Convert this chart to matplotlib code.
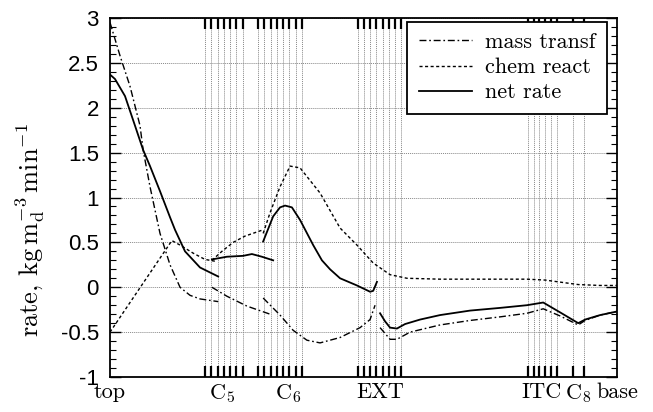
import numpy as np
import matplotlib
matplotlib.use("Agg")
import matplotlib.pyplot as plt
from matplotlib.lines import Line2D

plt.rcParams['mathtext.fontset'] = 'cm'
plt.rcParams['axes.unicode_minus'] = False

# x in stage units from the top of the column (0) to the base
# --- net rate (solid), one piece per section ---
net_x = [
    [0, 0.8, 2.4, 4.0, 5.3, 6.4, 8.0, 9.6, 10.4, 12.0, 14.4, 17.3],
    [16.3, 18.7, 21.3, 22.7, 24.3, 26.1],
    [24.5, 26.1, 27.2, 28.0, 29.1, 30.4, 32.5, 33.9, 35.2, 36.8, 39.5, 41.6, 42.1, 42.7],
    [43.2, 44.0, 44.8, 45.9, 47.2, 49.6, 52.8, 57.6, 62.4, 66.7, 69.3, 72.0, 74.9, 76.0, 78.4, 81.1],
]
net_y = [
    [2.37, 2.32, 2.13, 1.80, 1.53, 1.35, 1.07, 0.78, 0.64, 0.40, 0.22, 0.12],
    [0.31, 0.34, 0.35, 0.37, 0.34, 0.30],
    [0.51, 0.79, 0.89, 0.91, 0.89, 0.75, 0.47, 0.30, 0.20, 0.10, 0.02, -0.05, -0.04, 0.06],
    [-0.29, -0.38, -0.45, -0.46, -0.41, -0.36, -0.31, -0.26, -0.23, -0.20, -0.17, -0.28, -0.40, -0.36, -0.31, -0.27],
]

# --- mass transfer (dash-dot) ---
mass_x = [
    [0, 1.6, 3.2, 4.8, 5.3, 6.4, 8.0, 9.6, 11.2, 12.8, 14.4, 17.3],
    [16.3, 18.7, 21.9, 25.6],
    [24.5, 27.2, 29.3, 31.5, 33.6, 36.8, 40.0, 41.6, 42.4],
    [43.2, 44.8, 45.9, 48.0, 52.8, 57.6, 62.4, 66.7, 69.3, 72.0, 74.9, 76.0, 78.4, 81.1],
]
mass_y = [
    [2.95, 2.58, 2.24, 1.80, 1.53, 1.12, 0.60, 0.25, 0.00, -0.09, -0.13, -0.16],
    [0.00, -0.10, -0.21, -0.30],
    [-0.12, -0.31, -0.48, -0.59, -0.62, -0.56, -0.45, -0.36, -0.20],
    [-0.45, -0.58, -0.58, -0.50, -0.42, -0.37, -0.33, -0.29, -0.24, -0.32, -0.42, -0.37, -0.31, -0.27],
]

# --- chemical reaction (dotted) ---
chem_x = [
    [0, 9.9, 11.2, 13.3, 15.2, 16.8],
    [16.3, 17.9, 19.7, 21.6, 24.5],
    [24.5, 25.6, 27.2, 28.8, 30.4, 33.6, 36.8, 39.5, 42.1, 44.8, 47.5, 52.8, 62.4, 66.7, 69.6, 74.9, 78.4, 81.1],
]
chem_y = [
    [-0.50, 0.52, 0.47, 0.38, 0.31, 0.29],
    [0.30, 0.40, 0.50, 0.57, 0.64],
    [0.60, 0.83, 1.12, 1.35, 1.33, 1.05, 0.66, 0.47, 0.27, 0.14, 0.10, 0.09, 0.09, 0.09, 0.08, 0.03, 0.02, 0.02],
]

# stage positions (vertical lines)
stages_c5 = [15.2, 16.2, 17.2, 18.2, 19.2, 20.2, 21.2]
stages_c6 = [23.7, 24.7, 25.7, 26.7, 27.7, 28.7, 29.7, 30.7]
stages_ext = [39.6, 40.6, 41.6, 42.6, 43.6, 44.6, 45.6, 46.6]
stages_itc = [66.8, 67.75, 68.7, 69.65, 70.6, 71.55]
stages_c8 = [74.0, 74.9, 75.8]

label_pos = [0, 17.9, 28.5, 43.2, 69.0, 74.9, 81.1]
label_txt = ['top', r'C$_5$', r'C$_6$', 'EXT', 'ITC', r'C$_8$', 'base']

X_MAX = 81.1
serif = 'cmr10'
sans = 'Liberation Sans'

fig = plt.figure(figsize=(6.53, 4.12), dpi=100)
ax = fig.add_axes([110 / 653, 35 / 412, 507 / 653, 359 / 412])

dashdot = (0, (5, 2, 1.2, 2))
dotted = (0, (2.2, 1.8))

for xs, ys in zip(mass_x, mass_y):
    ax.plot(xs, ys, color='black', lw=1.0, linestyle=dashdot)
for xs, ys in zip(chem_x, chem_y):
    ax.plot(xs, ys, color='black', lw=1.0, linestyle=dotted)
for xs, ys in zip(net_x, net_y):
    ax.plot(xs, ys, color='black', lw=1.3, linestyle='-')

ax.set_xlim(0, X_MAX)
ax.set_ylim(-1, 3)

stages = stages_c5 + stages_c6 + stages_ext + stages_itc + stages_c8
ax.set_xticks(stages, minor=True)
ax.set_xticks(label_pos)
ax.set_xticklabels(label_txt, fontfamily=serif, fontsize=16)
ax.tick_params(axis='x', which='major', length=0, pad=4)
ax.tick_params(axis='x', which='minor', direction='in', length=8, width=1.6,
               top=True, bottom=True)
ax.grid(axis='x', which='minor', color='#888888', lw=0.7, linestyle=(0, (1, 1)))

ax.set_yticks(np.arange(-1, 3.01, 0.5))
ax.set_yticks(np.arange(-1, 3.01, 0.1), minor=True)
ax.set_yticklabels(['-1', '-0.5', '0', '0.5', '1', '1.5', '2', '2.5', '3'],
                   fontfamily=sans, fontsize=16)
ax.tick_params(axis='y', which='major', direction='in', length=8, width=1.0,
               left=True, right=True, pad=8)
ax.tick_params(axis='y', which='minor', direction='in', length=4, width=0.8,
               left=True, right=True)
ax.grid(axis='y', which='major', color='#888888', lw=0.7, linestyle=(0, (1, 1)))

for sp in ax.spines.values():
    sp.set_linewidth(1.3)

ax.set_ylabel(r'rate, kg$\,$m$_\mathrm{d}^{-3}\,$min$^{-1}$', fontfamily=serif,
              fontsize=19)
ax.yaxis.set_label_coords(-0.124, 0.41)

handles = [
    Line2D([], [], color='black', lw=1.0, linestyle=dashdot),
    Line2D([], [], color='black', lw=1.0, linestyle=dotted),
    Line2D([], [], color='black', lw=1.3, linestyle='-'),
]
leg = ax.legend(handles, ['mass transf', 'chem react', 'net rate'],
                loc='upper right', bbox_to_anchor=(0.98, 0.99), borderaxespad=0,
                prop={'family': serif, 'size': 16}, fancybox=False, framealpha=1,
                edgecolor='black', handlelength=2.4, labelspacing=0.25,
                handletextpad=0.6, borderpad=0.5)
leg.get_frame().set_linewidth(1.3)

fig.savefig('out.png', dpi=100)
